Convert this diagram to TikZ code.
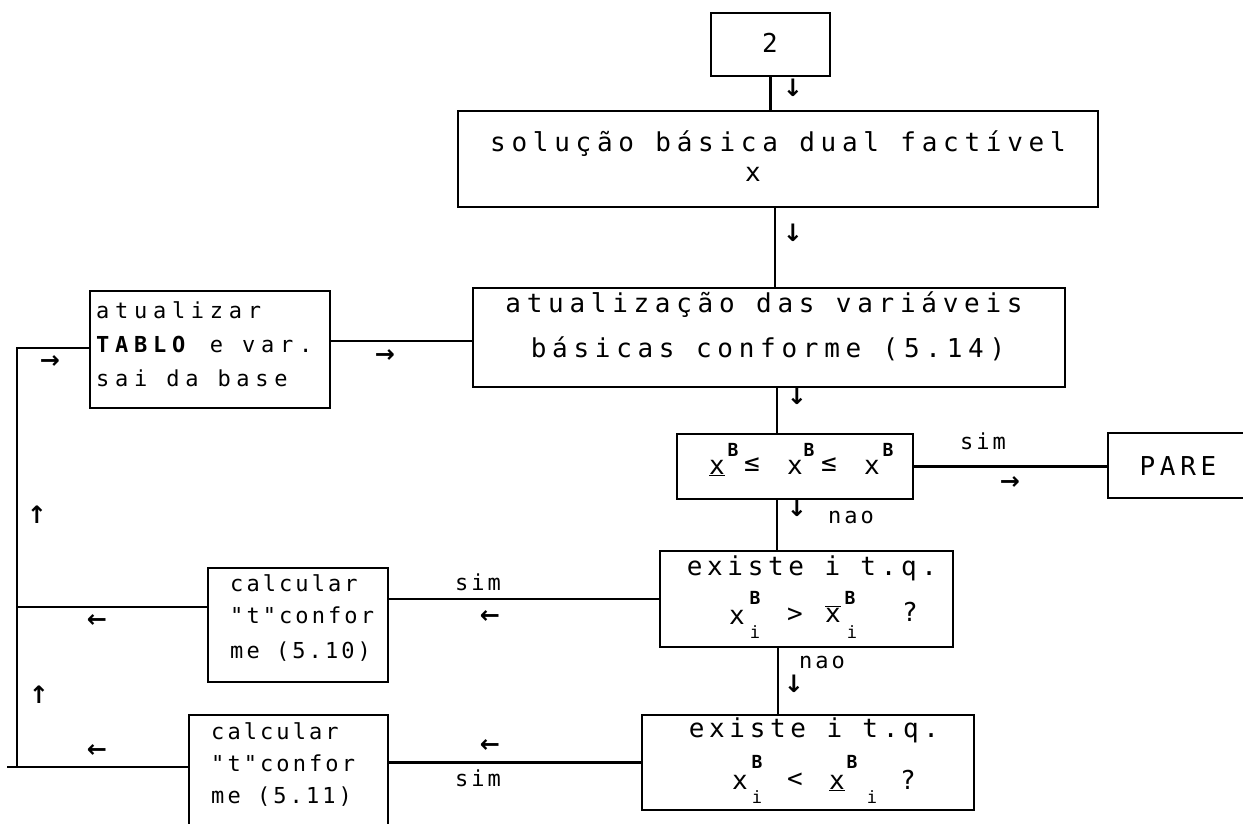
\documentclass[tikz,border=0pt]{standalone}
\usepackage{fontspec}
\newfontfamily\dmA[LetterSpace=18]{DejaVu Sans Mono}
\newfontfamily\dmB[LetterSpace=22]{DejaVu Sans Mono}
\newfontfamily\dmL[LetterSpace=26]{DejaVu Sans Mono}
\newfontfamily\dmC[LetterSpace=14]{DejaVu Sans Mono}
\newfontfamily\dmP{DejaVu Sans Mono}
\newfontfamily\arrf{DejaVu Sans}
\begin{document}
\begin{tikzpicture}[x=1pt,y=-1pt,
  box/.style={draw, line width=2.2pt, rectangle, inner sep=0pt},
  ln/.style={line width=2.2pt},
  tA/.style={inner sep=0pt, font=\fontsize{26}{30}\selectfont\dmA},
  tB/.style={inner sep=0pt, font=\fontsize{26}{30}\selectfont\dmB},
  tL/.style={inner sep=0pt, anchor=base west, font=\fontsize{22}{26}\selectfont\dmL},
  tC/.style={inner sep=0pt, anchor=base west, font=\fontsize{22}{26}\selectfont\dmC},
  lab/.style={inner sep=0pt, anchor=base, font=\fontsize{22}{26}\selectfont\dmC},
  tF/.style={inner sep=0pt, font=\fontsize{26}{30}\selectfont\dmP},
  tS/.style={inner sep=0pt, font=\fontsize{18}{20}\selectfont\dmP\bfseries},
  tI/.style={inner sep=0pt, font=\fontsize{17}{20}\selectfont\dmP},
  ar/.style={inner sep=0pt, font=\fontsize{24}{26}\selectfont\arrf\bfseries}]
\useasboundingbox (0,0) rectangle (1243,824);
\clip (0,0) rectangle (1243,824);
\fill[white] (0,0) rectangle (1243,824);

% boxes
\node[box, minimum width=119pt, minimum height=63pt] (b2) at (770.5,44.5) {};
\node[box, minimum width=640pt, minimum height=96pt] (sol) at (778,159) {};
\node[box, minimum width=592pt, minimum height=99pt] (atu) at (769,337.5) {};
\node[box, minimum width=240pt, minimum height=117pt] (lft) at (210,349.5) {};
\node[box, minimum width=236pt, minimum height=65pt] (cond) at (795,466.5) {};
\node[box, minimum width=142pt, minimum height=65pt] (pare) at (1179,465.5) {};
\node[box, minimum width=293pt, minimum height=96pt] (ex1) at (806.5,599) {};
\node[box, minimum width=332pt, minimum height=95pt] (ex2) at (808,762.5) {};
\node[box, minimum width=180pt, minimum height=114pt] (c1) at (298,625) {};
\node[box, minimum width=199pt, minimum height=134pt] (c2) at (288.5,782) {};

% texts
\node[tA, anchor=base] (t2) at (770,53) {2};
\node[tB, anchor=base] (tsol1) at (778,152) {solução básica dual factível};
\node[tA, anchor=base] (tsol2) at (753,182) {x};
\node[tB, anchor=base] (tatu1) at (764,312) {atualização das variáveis};
\node[tB, anchor=base] (tatu2) at (768,357) {básicas conforme (5.14)};
\node[tL] (tl1) at (96,318) {atualizar};
\node[tL] (tl2) at (96,352) {\textbf{TABLO} e var.};
\node[tL] (tl3) at (96,386) {sai da base};
\node[tC] (tc11) at (230,591) {calcular};
\node[tC] (tc12) at (230,623) {"t"confor};
\node[tC] (tc13) at (230,658) {me (5.10)};
\node[tC] (tc21) at (211,739) {calcular};
\node[tC] (tc22) at (211,771) {"t"confor};
\node[tC] (tc23) at (211,803) {me (5.11)};
\node[tA, anchor=base] (tp) at (1178,475) {PARE};
\node[tA, anchor=base] (te1) at (812,575) {existe i t.q.};
\node[tA, anchor=base] (te2) at (814,737) {existe i t.q.};

% formula in condition box
\node[tF, anchor=base] (cx1) at (717,474) {\underline{x}};
\node[tS] (cb1) at (733,450) {B};
\node[tF] (cle1) at (752,465) {≤};
\node[tF] (cx2) at (795,467) {x};
\node[tS] (cb2) at (809,450) {B};
\node[tF] (cle2) at (829,465) {≤};
\node[tF] (cx3) at (872,467) {x};
\node[tS] (cb3) at (888,450) {B};

% formula in first "existe" box
\node[tF] (e1x1) at (737,617) {x};
\node[tS] (e1b1) at (755,598) {B};
\node[tI] (e1i1) at (755,632) {i};
\node[tF] (e1gt) at (795,615) {>};
\node[tF] (e1x2) at (833,614) {$\overline{\hbox{x}}$};
\node[tS] (e1b2) at (850,598) {B};
\node[tI] (e1i2) at (852,632) {i};
\node[tF] (e1q) at (910,612) {?};

% formula in second "existe" box
\node[tF] (e2x1) at (740,782) {x};
\node[tS] (e2b1) at (757,762) {B};
\node[tI] (e2i1) at (757,797) {i};
\node[tF] (e2lt) at (795,780) {<};
\node[tF, anchor=base] (e2x2) at (837,789) {\underline{x}};
\node[tS] (e2b2) at (852,762) {B};
\node[tI] (e2i2) at (872,797) {i};
\node[tF] (e2q) at (908,780) {?};

% labels
\node[lab] (sim1) at (983,449) {sim};
\node[lab] (nao1) at (851,523) {nao};
\node[lab] (nao2) at (822,668) {nao};
\node[lab] (sim2) at (478,590) {sim};
\node[lab] (sim3) at (478,786) {sim};

% arrow glyphs
\node[ar] (a1) at (793,88) {↓};
\node[ar] (a2) at (793,233) {↓};
\node[ar] (a3) at (797,396) {↓};
\node[ar] (a4) at (797,508) {↓};
\node[ar] (a5) at (794,684) {↓};
\node[ar] (a6) at (1010,483) {→};
\node[ar] (a7) at (385,356) {→};
\node[ar] (a8) at (50,362) {→};
\node[ar] (a9) at (490,617) {←};
\node[ar] (a10) at (490,746) {←};
\node[ar] (a11) at (97,621) {←};
\node[ar] (a12) at (97,751) {←};
\node[ar] (a13) at (37,515) {↑};
\node[ar] (a14) at (39,695) {↑};

% connectors
\coordinate (s1) at ([xshift=-3pt]sol.south);
\coordinate (s2) at ([xshift=8pt]atu.south);
\coordinate (s3) at ([xshift=-18pt]cond.south);
\coordinate (s4) at ([xshift=-28.5pt]ex1.south);
\coordinate (s5) at ([yshift=8.5pt]lft.east);
\coordinate (s6) at ([yshift=18pt]c1.west);
\coordinate (s7) at ([yshift=15pt]c2.west);
\coordinate (Ltop) at (17,348);
\coordinate (Lbot) at (17,767);
\coordinate (Lend) at (7,767);
\draw[ln] (b2.south) -- (b2.south |- sol.north);
\draw[ln] (s1) -- (s1 |- atu.north);
\draw[ln] (s2) -- (s2 |- cond.north);
\draw[ln] (s3) -- (s3 |- ex1.north);
\draw[ln] (s4) -- (s4 |- ex2.north);
\draw[ln] (cond.east) -- (cond.east -| pare.west);
\draw[ln] (s5) -- (s5 -| atu.west);
\draw[ln] (ex1.west) -- (ex1.west -| c1.east);
\draw[ln] (ex2.west) -- (ex2.west -| c2.east);
\draw[ln] (s6) -- (s6 -| Ltop);
\draw[ln] (s7) -- (Lend);
\draw[ln] (Lbot) -- (Ltop) -- (Ltop -| lft.west);
\end{tikzpicture}
\end{document}
